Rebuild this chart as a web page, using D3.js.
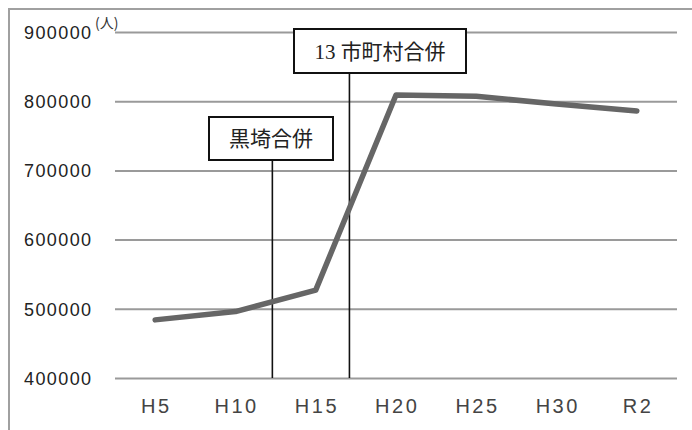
<!DOCTYPE html>
<html>
<head>
<meta charset="utf-8">
<script src="https://cdn.jsdelivr.net/npm/d3@7"></script>
<style>
  html, body { margin: 0; padding: 0; background: #fff; }
  #chart { width: 692px; height: 430px; }
</style>
</head>
<body>
<div id="chart"></div>
<script>
// 年次と人口
const categories = ['H5', 'H10', 'H15', 'H20', 'H25', 'H30', 'R2'];
const population = [484000, 496000, 527000, 809000, 807000, 796000, 786000];
const yTicks = [400000, 500000, 600000, 700000, 800000, 900000];
const unitLabel = '(人)';
// 合併のタイミング（カテゴリ位置で表す）
const eventNames = ['黒埼合併', '13 市町村合併'];
const eventPos = [1.46, 2.42];

const width_svg = 692, height_svg = 430;
const margin = {top: 32, right: 15, bottom: 52, left: 115};

const svg = d3.select('#chart').append('svg')
  .attr('width', width_svg)
  .attr('height', height_svg);

// 外枠（左と上だけ見えている）
svg.append('path')
  .attr('d', `M9,${height_svg} V9 H${width_svg}`)
  .attr('fill', 'none')
  .attr('stroke', '#a0a0a0')
  .attr('stroke-width', 2);

const xScale = d3.scaleBand()
  .domain(categories)
  .range([margin.left, width_svg - margin.right])
  .padding(0);
const xIdx = d3.scaleLinear()
  .domain([-0.5, categories.length - 0.5])
  .range([margin.left, width_svg - margin.right]);
const yScale = d3.scaleLinear()
  .domain([400000, 900000])
  .range([height_svg - margin.bottom, margin.top]);

// y軸：グリッド線とラベル
const yAxis = g => g.attr('transform', `translate(${margin.left},0)`)
  .call(d3.axisLeft(yScale).tickValues(yTicks).tickSize(0).tickPadding(0).tickFormat(d => d))
  .call(g => g.select('.domain').remove())
  .call(g => g.selectAll('.tick line').clone()
    .attr('x2', width_svg - margin.right - margin.left)
    .attr('stroke', '#9a9a9a')
    .attr('stroke-width', 2))
  .call(g => g.selectAll('.tick text')
    .attr('x', 24 - margin.left)
    .attr('dy', '0.35em')
    .attr('text-anchor', 'start')
    .attr('fill', '#222')
    .attr('font-family', 'Liberation Sans, Arial, sans-serif')
    .attr('font-size', 18)
    .attr('letter-spacing', 1.4));
svg.append('g').call(yAxis);

// 単位
svg.append('text')
  .attr('x', 95)
  .attr('y', yScale(900000) - 4)
  .attr('fill', '#333')
  .attr('font-family', 'Noto Sans CJK JP, sans-serif')
  .attr('font-size', 14)
  .text(unitLabel);

// x軸ラベル
const xAxis = g => g.attr('transform', `translate(0,${height_svg - margin.bottom})`)
  .call(d3.axisBottom(xScale).tickSize(0).tickPadding(0))
  .call(g => g.select('.domain').remove())
  .call(g => g.selectAll('.tick text')
    .attr('y', 35)
    .attr('dy', 0)
    .attr('fill', '#444')
    .attr('font-family', 'Liberation Sans, Arial, sans-serif')
    .attr('font-size', 20)
    .attr('letter-spacing', 2.5)
    .attr('dx', 1.2));
svg.append('g').call(xAxis);

// 合併の縦線と注記
const boxLayout = [
  {x0: 209, x1: 333, y0: 117, y1: 160},
  {x0: 294, x1: 466, y0: 29, y1: 73}
];
const g_event = svg.append('g');
eventNames.forEach((name, i) => {
  const b = boxLayout[i];
  const x = xIdx(eventPos[i]);
  g_event.append('line')
    .attr('x1', x).attr('x2', x)
    .attr('y1', b.y1)
    .attr('y2', yScale(400000))
    .attr('stroke', '#111')
    .attr('stroke-width', 1.6);
  g_event.append('rect')
    .attr('x', b.x0).attr('y', b.y0)
    .attr('width', b.x1 - b.x0)
    .attr('height', b.y1 - b.y0)
    .attr('fill', '#fff')
    .attr('stroke', '#111')
    .attr('stroke-width', 2);
  g_event.append('text')
    .attr('x', (b.x0 + b.x1) / 2)
    .attr('y', (b.y0 + b.y1) / 2)
    .attr('dy', '0.36em')
    .attr('text-anchor', 'middle')
    .attr('fill', '#222')
    .attr('font-family', 'Liberation Serif, Noto Sans CJK JP, serif')
    .attr('font-size', 21)
    .text(name);
});

// 人口の折れ線
const line = d3.line()
  .x((d, i) => xScale(categories[i]) + xScale.bandwidth() / 2)
  .y(d => yScale(d));
svg.append('path')
  .datum(population)
  .attr('fill', 'none')
  .attr('stroke', '#666')
  .attr('stroke-width', 5.5)
  .attr('stroke-linejoin', 'round')
  .attr('stroke-linecap', 'round')
  .attr('d', line);
</script>
</body>
</html>
